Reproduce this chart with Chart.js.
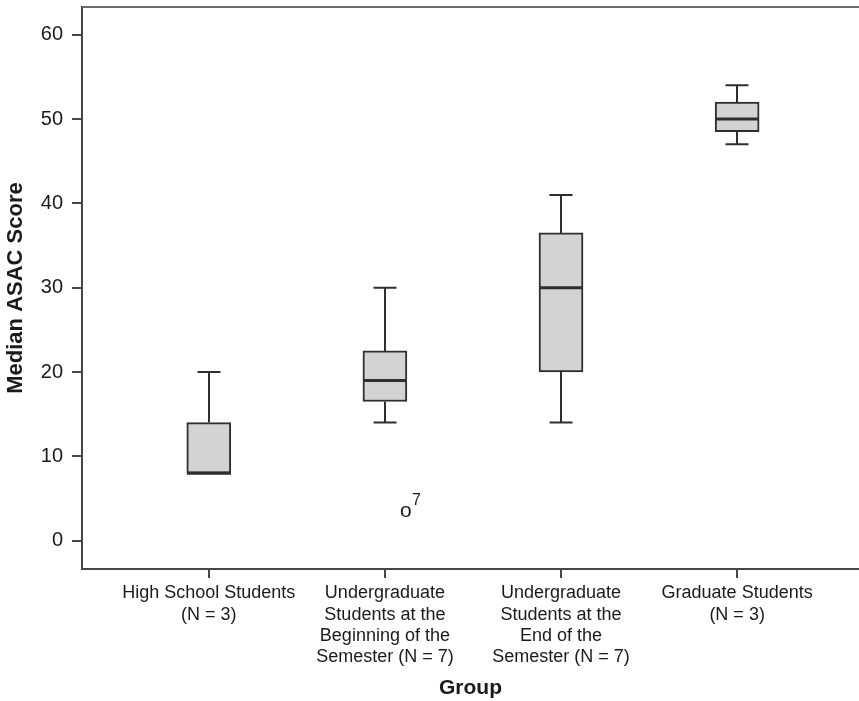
<!DOCTYPE html>
<html>
<head>
<meta charset="utf-8">
<script src="https://cdn.jsdelivr.net/npm/chart.js@4/dist/chart.umd.min.js"></script>
<style>
  html, body { margin: 0; padding: 0; background: #ffffff; }
  #wrap { width: 859px; height: 701px; }
</style>
</head>
<body>
<div id="wrap"><canvas id="c" width="859" height="701"></canvas></div>
<script>
// ---- data ----
const categories = [
  ["High School Students", "(N = 3)"],
  ["Undergraduate", "Students at the", "Beginning of the", "Semester (N = 7)"],
  ["Undergraduate", "Students at the", "End of the", "Semester (N = 7)"],
  ["Graduate Students", "(N = 3)"]
];
const whiskerLow  = [8, 14, 14, 47];
const quartile1   = [8, 16.5, 20, 48.5];
const medians     = [8, 19, 30, 50];
const quartile3   = [14, 22.5, 36.5, 52];
const whiskerHigh = [20, 30, 41, 54];
const outlierGroup  = [1];
const outlierValue  = [3.4];
const outlierLabel  = ["7"];
const yTicks = [0, 10, 20, 30, 40, 50, 60];

const FONT = "'Liberation Sans', Arial, Helvetica, sans-serif";
const LINE = '#2e2e2e';
const AXIS = '#474747';

const boxData = categories.map((c, i) => ({ x: i, y: [quartile1[i], quartile3[i]] }));

const boxPlugin = {
  id: 'boxPlugin',
  afterDatasetsDraw(chart) {
    const ctx = chart.ctx;
    const xs = chart.scales.x, ys = chart.scales.y;
    const capHalf = 11.5, boxHalf = 22;
    ctx.save();
    ctx.strokeStyle = LINE;
    ctx.lineCap = 'butt';
    categories.forEach((c, i) => {
      const cx = Math.round(xs.getPixelForValue(i));
      const yMin = ys.getPixelForValue(whiskerLow[i]);
      const yQ1 = ys.getPixelForValue(quartile1[i]);
      const yQ3 = ys.getPixelForValue(quartile3[i]);
      const yMax = ys.getPixelForValue(whiskerHigh[i]);
      const yMed = ys.getPixelForValue(medians[i]);
      ctx.lineWidth = 2;
      if (whiskerHigh[i] > quartile3[i]) {
        ctx.beginPath();
        ctx.moveTo(cx, yQ3); ctx.lineTo(cx, yMax);
        ctx.moveTo(cx - capHalf, yMax); ctx.lineTo(cx + capHalf, yMax);
        ctx.stroke();
      }
      if (whiskerLow[i] < quartile1[i]) {
        ctx.beginPath();
        ctx.moveTo(cx, yQ1); ctx.lineTo(cx, yMin);
        ctx.moveTo(cx - capHalf, yMin); ctx.lineTo(cx + capHalf, yMin);
        ctx.stroke();
      }
      ctx.lineWidth = 3;
      ctx.beginPath();
      ctx.moveTo(cx - boxHalf, yMed); ctx.lineTo(cx + boxHalf, yMed);
      ctx.stroke();
    });
    ctx.fillStyle = '#1a1a1a';
    outlierGroup.forEach((g, k) => {
      const px = xs.getPixelForValue(g) + 21;
      const py = ys.getPixelForValue(outlierValue[k]);
      ctx.font = "21px " + FONT;
      ctx.textAlign = 'center';
      ctx.textBaseline = 'alphabetic';
      ctx.fillText('o', px, py + 5.5);
      ctx.font = "16px " + FONT;
      ctx.textAlign = 'left';
      ctx.fillText(outlierLabel[k], px + 6, py - 7);
    });
    const a = chart.chartArea;
    ctx.strokeStyle = '#6a6a6a';
    ctx.lineWidth = 2;
    ctx.beginPath();
    ctx.moveTo(a.left, a.top); ctx.lineTo(a.right, a.top);
    ctx.stroke();
    ctx.restore();
  }
};

new Chart(document.getElementById('c'), {
  type: 'bar',
  data: {
    datasets: [{
      label: 'Box',
      data: boxData,
      backgroundColor: '#d3d3d3',
      borderColor: LINE,
      borderWidth: 2,
      borderSkipped: false,
      barThickness: 44
    }]
  },
  options: {
    responsive: false,
    animation: false,
    devicePixelRatio: 1,
    layout: { padding: { top: 7, right: 0, left: 0, bottom: 0 } },
    plugins: { legend: { display: false }, tooltip: { enabled: false } },
    scales: {
      x: {
        type: 'linear',
        min: -0.72,
        max: 3.692,
        offset: false,
        afterBuildTicks: (axis) => { axis.ticks = categories.map((c, i) => ({ value: i })); },
        afterFit: (s) => { s.height = 132; s.paddingLeft = 0; s.paddingRight = 0; },
        ticks: {
          autoSkip: false, maxRotation: 0, minRotation: 0,
          padding: 5,
          color: '#1a1a1a',
          font: { family: FONT, size: 18, lineHeight: 1.17 },
          callback: (v) => categories[v]
        },
        grid: { offset: false, drawOnChartArea: false, drawTicks: true, tickLength: 9, color: AXIS, lineWidth: 2 },
        border: { display: true, color: AXIS, width: 2 },
        title: {
          display: true, text: 'Group', color: '#1a1a1a',
          font: { family: FONT, size: 21, weight: 'bold', lineHeight: 1.2 },
          padding: { top: 0, bottom: 0 }
        }
      },
      y: {
        type: 'linear',
        min: -3.36,
        max: 63.29,
        afterBuildTicks: (axis) => { axis.ticks = yTicks.map(v => ({ value: v })); },
        afterFit: (s) => { s.width = 82; s.paddingTop = 0; s.paddingBottom = 0; },
        ticks: {
          padding: 9,
          color: '#1a1a1a',
          font: { family: FONT, size: 20 },
          callback: (v) => String(v)
        },
        grid: { drawOnChartArea: false, drawTicks: true, tickLength: 10, color: AXIS, lineWidth: 2 },
        border: { display: true, color: AXIS, width: 2 },
        title: {
          display: true, text: 'Median ASAC Score', color: '#1a1a1a',
          font: { family: FONT, size: 22, weight: 'bold', lineHeight: 1.2 },
          padding: { top: 3, bottom: 0 }
        }
      }
    }
  },
  plugins: [boxPlugin]
});
</script>
</body>
</html>
